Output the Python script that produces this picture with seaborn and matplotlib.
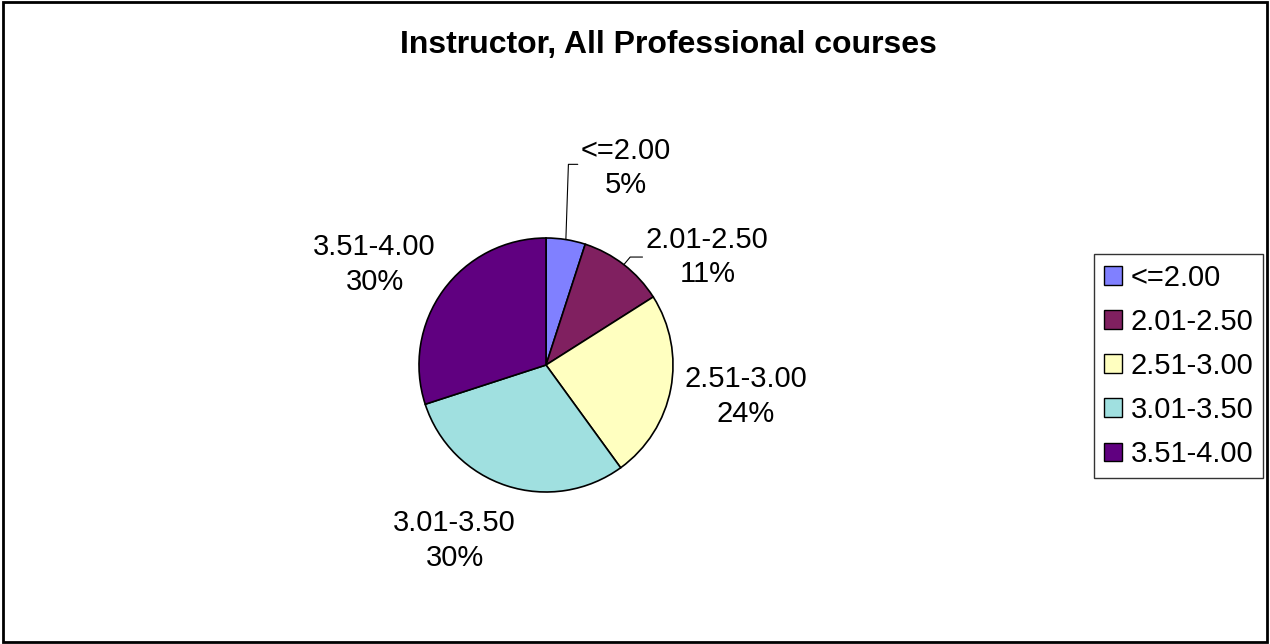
import numpy as np
import matplotlib
matplotlib.use("Agg")
import matplotlib.pyplot as plt
import seaborn as sns
from matplotlib.patches import Rectangle

# data
categories = ["<=2.00", "2.01-2.50", "2.51-3.00", "3.01-3.50", "3.51-4.00"]
percents = [5, 11, 24, 30, 30]
slice_colors = ["#8080FF", "#802060", "#FFFFC0", "#A0E0E0", "#600080"]

# label placement (in pie radius units) - layout only
label_xy = [(0.63, 1.55), (1.27, 0.85), (1.57, -0.25), (-0.72, -1.38), (-1.35, 0.79)]

sns.set_theme(style="white")
plt.rcParams["font.family"] = ["Liberation Sans", "DejaVu Sans"]
plt.rcParams["text.color"] = "black"

W, H = 1270, 644
fig = plt.figure(figsize=(W / 100, H / 100), dpi=100)
fig.patch.set_facecolor("white")

# outer frame like the excel chart area
fig.add_artist(Rectangle((3 / W, 2 / H), (W - 6) / W, (H - 4) / H, transform=fig.transFigure,
                         fill=False, edgecolor="black", linewidth=2))

fig.text(668 / W, 1 - 45 / H, "Instructor, All Professional courses", ha="center", va="center",
         fontsize=23, fontweight="bold", color="black")

cx, cy, r = 546, 365, 127
ax = fig.add_axes([(cx - r) / W, (H - cy - r) / H, 2 * r / W, 2 * r / H])
palette = sns.color_palette(slice_colors)
wedges, _ = ax.pie(percents, colors=palette, startangle=90, counterclock=False,
                   wedgeprops=dict(edgecolor="black", linewidth=1.2), radius=1)
ax.set_xlim(-1, 1)
ax.set_ylim(-1, 1)
ax.set_aspect("equal")
ax.axis("off")

for w, cat, pct, (lx, ly) in zip(wedges, categories, percents, label_xy):
    ax.text(lx, ly, f"{cat}\n{pct}%", ha="center", va="center", fontsize=21,
            linespacing=1.3, clip_on=False, color="black")

# leader lines for the two small slices
for i, (ex, ey) in zip([0, 1], [(0.25, 1.58), (0.76, 0.85)]):
    w = wedges[i]
    ang = np.deg2rad((w.theta1 + w.theta2) / 2)
    sx, sy = np.cos(ang), np.sin(ang)
    dx = 0.02 if i == 0 else 0.05
    ax.plot([sx, sx + dx, ex], [sy, ey, ey], color="black", lw=0.8, clip_on=False)

handles = [Rectangle((0, 0), 1, 1, facecolor=c, edgecolor="black", linewidth=1) for c in palette]
leg = fig.legend(handles, categories, loc="center left", bbox_to_anchor=(1094 / W, 1 - 366 / H),
                 fontsize=21, frameon=True, fancybox=False, handlelength=0.6, handleheight=0.6,
                 handletextpad=0.3, labelspacing=0.55, borderpad=0.35, borderaxespad=0)
leg.get_frame().set_edgecolor("black")
leg.get_frame().set_linewidth(1)
for t in leg.get_texts():
    t.set_color("black")

fig.savefig("out.png", dpi=100)
